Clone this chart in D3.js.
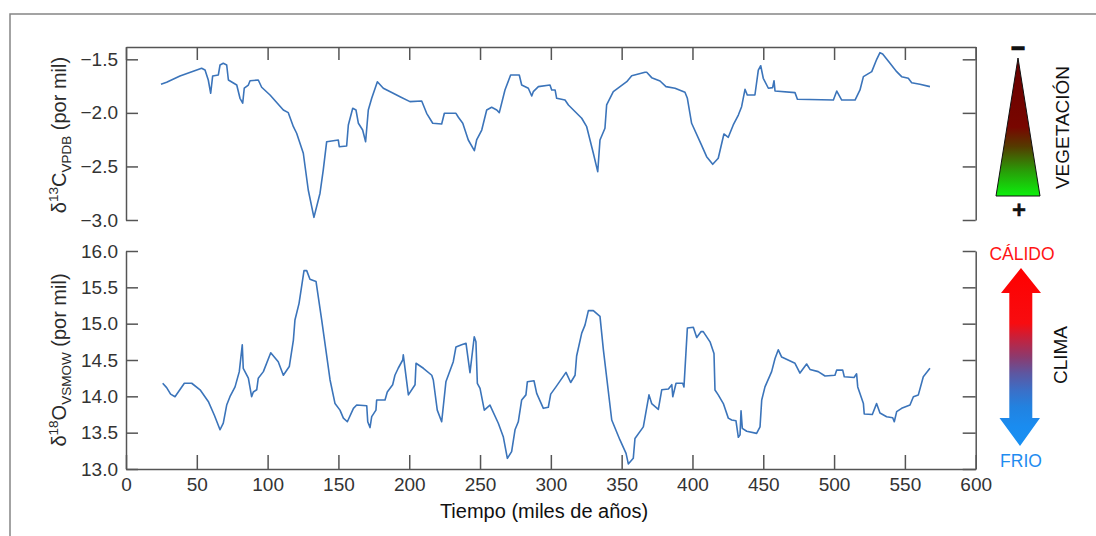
<!DOCTYPE html>
<html>
<head>
<meta charset="utf-8">
<script src="https://cdn.jsdelivr.net/npm/d3@7"></script>
<style>
  html, body { margin: 0; padding: 0; background: #fff; }
  svg { display: block; }
</style>
</head>
<body>
<svg id="chart" width="1096" height="536"></svg>
<script>
// ---------- DATA ----------
const ageC = [24.7,28.7,38.1,53.4,55.8,58.1,59.8,61.2,65.2,66.4,68.7,71.1,72.3,78.2,80.5,82.4,83.5,86.4,87.6,93.4,95.8,101.7,111.1,114.6,118.2,120.5,125.2,128.7,132.7,137,139.3,141.7,149.9,150.6,155.8,157,160.1,162.4,164.1,167.1,169.2,171.1,173.5,177.5,181.7,188.7,193.5,200.5,208.8,212.3,216.6,222.9,224.8,233,234.7,237.8,241.7,246,247.6,251.2,254.7,258.2,261.8,263.6,267.6,271.6,277.7,279.4,284.1,286.5,287.6,291.2,299.4,300.6,303,304.1,310,312.4,321.8,325.3,330,333.1,334.7,338.2,339.4,344.1,353.6,357.1,366.5,367.7,371.2,377.1,381.3,387.7,394.7,396.4,399.4,406,410,414.3,418.2,422.2,425.3,428.8,432.4,434.7,437.1,438.7,444.1,446.5,448.2,450,453.6,456.6,457.6,458.3,472.4,474.1,499.5,501.9,505.4,514.8,518.3,520.7,526.6,530.1,532.4,534.3,539.5,544.2,547.7,552.4,554.8,560.6,567.7];
const d13C = [-1.733,-1.714,-1.655,-1.583,-1.60,-1.693,-1.817,-1.655,-1.646,-1.553,-1.537,-1.553,-1.693,-1.74,-1.864,-1.91,-1.77,-1.74,-1.70,-1.693,-1.761,-1.833,-1.973,-1.998,-2.129,-2.19,-2.377,-2.72,-2.975,-2.75,-2.533,-2.269,-2.253,-2.316,-2.309,-2.113,-1.957,-1.973,-2.097,-2.16,-2.269,-1.973,-1.864,-1.709,-1.77,-1.817,-1.849,-1.895,-1.889,-2.004,-2.097,-2.104,-2.004,-2.004,-2.041,-2.097,-2.253,-2.353,-2.253,-2.16,-1.973,-1.948,-1.973,-1.998,-1.786,-1.646,-1.646,-1.74,-1.77,-1.842,-1.802,-1.755,-1.74,-1.786,-1.786,-1.864,-1.88,-1.926,-2.05,-2.129,-2.377,-2.549,-2.253,-2.144,-1.926,-1.802,-1.709,-1.653,-1.621,-1.621,-1.671,-1.702,-1.755,-1.77,-1.808,-1.864,-2.097,-2.29,-2.409,-2.48,-2.424,-2.197,-2.228,-2.113,-2.02,-1.942,-1.78,-1.833,-1.833,-1.60,-1.56,-1.677,-1.77,-1.764,-1.70,-1.796,-1.811,-1.873,-1.88,-1.796,-1.88,-1.88,-1.786,-1.662,-1.615,-1.50,-1.438,-1.45,-1.537,-1.615,-1.662,-1.677,-1.718,-1.733,-1.755];

const ageO = [25.9,28.7,31.5,34.6,41.2,46.4,52.3,58.1,62.4,66.4,68.7,71.1,73.4,77,80,82.1,82.8,86.4,88.7,89.9,92.3,93.4,97,102.2,107.5,111.1,115.3,118.2,119.3,122.2,125.7,127.6,129.9,134.2,138.2,144.1,147.6,151.1,153.5,156.3,160.6,162.9,170,170.7,172.3,173.5,176.5,177,182.9,184.5,188.3,189.9,192.3,195.4,195.8,199.4,204.1,204.8,210,215.9,217,219.8,222.9,225.9,231.1,233,237,240.1,242.9,245.9,247.1,248.1,250,253,257,262.9,266.4,269.3,272.3,274.7,277,279.4,282.4,283.4,288.1,290,294.7,298.2,299.9,303.6,310.7,314,317.1,318.2,321.8,324.1,326.5,330,334.7,337.1,343,348.8,353.1,354.7,358.2,359.4,365.3,369.3,371.2,375.9,378.3,383,385.4,386.1,388.4,393.1,394,396.4,400.6,403,406,407.6,412.4,415.2,415.9,418.2,421.8,425.3,427.7,430.7,432.4,433.6,434.3,435.2,438.3,445.3,447.7,448.9,451.2,455.9,458.3,460.6,463,472.4,475.9,480.6,483,488.8,493.6,500.6,501.8,506.1,507.2,514.1,515.9,516.7,520.7,521.3,527,530,532.4,537.1,541.4,542.5,544.2,547.7,553.6,556,559.5,563,567.7];
const d18O = [14.18,14.12,14.03,13.995,14.18,14.18,14.09,13.93,13.74,13.54,13.63,13.88,13.995,14.13,14.34,14.71,14.386,14.25,13.995,14.06,14.09,14.25,14.34,14.60,14.477,14.29,14.41,14.775,15.05,15.28,15.73,15.73,15.61,15.58,15.05,14.225,13.90,13.81,13.70,13.65,13.835,13.88,13.87,13.65,13.57,13.72,13.81,13.95,13.95,14.06,14.16,14.29,14.39,14.50,14.57,14.02,14.16,14.455,14.386,14.29,14.225,13.81,13.65,14.20,14.477,14.68,14.71,14.73,14.325,14.82,14.75,14.18,14.11,13.81,13.88,13.63,13.445,13.147,13.24,13.54,13.65,13.95,14.02,14.20,14.215,14.04,13.835,13.85,14.03,14.13,14.33,14.19,14.29,14.555,14.87,14.98,15.18,15.18,15.10,14.64,13.674,13.40,13.216,13.07,13.147,13.42,13.58,14.02,13.90,13.82,14.09,14.10,14.16,13.995,14.18,14.18,14.13,14.94,14.95,14.81,14.89,14.89,14.75,14.59,14.087,14.02,13.90,13.70,13.674,13.665,13.436,13.47,13.80,13.56,13.52,13.49,13.58,13.95,14.13,14.34,14.52,14.64,14.54,14.455,14.32,14.445,14.37,14.34,14.28,14.29,14.36,14.36,14.27,14.26,14.31,14.13,13.90,13.757,13.75,13.90,13.77,13.72,13.706,13.65,13.79,13.835,13.88,13.995,14.02,14.27,14.386];

const xTicks = [0,50,100,150,200,250,300,350,400,450,500,550,600];
const cTicks = [-1.5,-2.0,-2.5,-3.0];
const oTicks = [13.0,13.5,14.0,14.5,15.0,15.5,16.0];

// ---------- LAYOUT ----------
const svg = d3.select("#chart");
const FONT = "'Liberation Sans', Arial, Helvetica, sans-serif";
const AX = "#555";
const LINE = "#3b74ba";

const x = d3.scaleLinear().domain([0, 600]).range([126, 975.7]);
const yC = d3.scaleLinear().domain([-3.0, -1.385]).range([220, 47]);
const yO = d3.scaleLinear().domain([13.0, 16.0]).range([469, 251]);

// outer frame
svg.append("path")
  .attr("d", "M10,536V14H1096")
  .attr("fill", "none").attr("stroke", "#858585").attr("stroke-width", 1.5);

function styleAxis(g, showText) {
  g.attr("font-family", FONT);
  g.select(".domain").attr("stroke", AX).attr("stroke-width", 1.5);
  g.selectAll(".tick line").attr("stroke", AX).attr("stroke-width", 1.5);
  g.selectAll(".tick text").attr("fill", "#333").attr("font-size", 19);
  if (!showText) g.selectAll(".tick text").remove();
}

// ---- top panel (d13C)
svg.append("g").attr("transform", "translate(126,0)")
  .call(d3.axisLeft(yC).tickValues(cTicks).tickSize(-12).tickSizeOuter(0).tickPadding(8).tickFormat(d3.format(".1f")))
  .call(g => styleAxis(g, true));
svg.append("g").attr("transform", "translate(975.7,0)")
  .call(d3.axisRight(yC).tickValues(cTicks).tickSize(-13).tickSizeOuter(0).tickFormat(""))
  .call(g => styleAxis(g, false));
svg.append("g").attr("transform", "translate(0,47)")
  .call(d3.axisTop(x).tickValues(xTicks).tickSize(-13).tickSizeOuter(0).tickFormat(""))
  .call(g => styleAxis(g, false));

// ---- bottom panel (d18O)
svg.append("g").attr("transform", "translate(126,0)")
  .call(d3.axisLeft(yO).tickValues(oTicks).tickSize(-12).tickSizeOuter(0).tickPadding(8).tickFormat(d3.format(".1f")))
  .call(g => styleAxis(g, true));
svg.append("g").attr("transform", "translate(975.7,0)")
  .call(d3.axisRight(yO).tickValues(oTicks).tickSize(-13).tickSizeOuter(0).tickFormat(""))
  .call(g => styleAxis(g, false));
svg.append("g").attr("transform", "translate(0,469)")
  .call(d3.axisBottom(x).tickValues(xTicks).tickSize(-14).tickSizeOuter(0).tickPadding(9).tickFormat(d3.format("d")))
  .call(g => styleAxis(g, true));

// ---- lines
const lineC = d3.line().x((d, i) => x(ageC[i])).y(d => yC(d));
const lineO = d3.line().x((d, i) => x(ageO[i])).y(d => yO(d));
svg.append("path").datum(d13C).attr("d", lineC)
  .attr("fill", "none").attr("stroke", LINE).attr("stroke-width", 1.6).attr("stroke-linejoin", "round");
svg.append("path").datum(d18O).attr("d", lineO)
  .attr("fill", "none").attr("stroke", LINE).attr("stroke-width", 1.6).attr("stroke-linejoin", "round");

// ---- axis titles
svg.append("text")
  .attr("x", 544).attr("y", 518).attr("text-anchor", "middle")
  .attr("font-family", FONT).attr("font-size", 20).attr("fill", "#111")
  .text("Tiempo (miles de años)");

function yTitle(cx, cy, elem, sup, sub) {
  const t = svg.append("text")
    .attr("transform", `translate(${cx},${cy}) rotate(-90)`)
    .attr("text-anchor", "middle")
    .attr("font-family", FONT).attr("font-size", 20).attr("fill", "#2a2a2a");
  t.append("tspan").text("δ");
  t.append("tspan").attr("font-size", 13.5).attr("dy", -8).text(sup);
  t.append("tspan").attr("dy", 8).text(elem);
  t.append("tspan").attr("font-size", 13.5).attr("dy", 5).text(sub);
  t.append("tspan").attr("dy", -5).text(" (por mil)");
}
yTitle(66, 135, "C", "13", "VPDB");
yTitle(66, 360, "O", "18", "VSMOW");

// ---- right legends
const defs = svg.append("defs");
const gV = defs.append("linearGradient").attr("id", "gVeg")
  .attr("x1", 0).attr("y1", 0).attr("x2", 0).attr("y2", 1);
[[0, "#680000"], [0.5, "#780600"], [0.64, "#553a00"], [0.82, "#289e08"], [1, "#0cf00c"]]
  .forEach(s => gV.append("stop").attr("offset", s[0]).attr("stop-color", s[1]));
svg.append("path")
  .attr("d", "M1018,58L1040,196L996,196Z")
  .attr("fill", "url(#gVeg)").attr("stroke", "#111").attr("stroke-width", 1);

svg.append("text").attr("x", 1018).attr("y", 56).attr("text-anchor", "middle")
  .attr("font-family", FONT).attr("font-size", 24).attr("font-weight", "bold")
  .attr("fill", "#111").attr("stroke", "#111").attr("stroke-width", 1.2).text("−");
svg.append("text").attr("x", 1019).attr("y", 218).attr("text-anchor", "middle")
  .attr("font-family", FONT).attr("font-size", 24).attr("font-weight", "bold")
  .attr("fill", "#111").attr("stroke", "#111").attr("stroke-width", 0.4).text("+");
svg.append("text")
  .attr("transform", "translate(1069,127.5) rotate(-90)").attr("text-anchor", "middle")
  .attr("font-family", FONT).attr("font-size", 19).attr("fill", "#111").text("VEGETACIÓN");

const gA = defs.append("linearGradient").attr("id", "gClim")
  .attr("gradientUnits", "userSpaceOnUse")
  .attr("x1", 0).attr("y1", 268).attr("x2", 0).attr("y2", 446);
[[0, "#ff0000"], [0.31, "#f80c10"], [0.39, "#c8203a"], [0.5, "#8c3a6e"], [0.59, "#5e56a0"], [0.69, "#3a70c8"], [0.78, "#2282e0"], [0.89, "#1a8cf0"], [1, "#1890f2"]]
  .forEach(s => gA.append("stop").attr("offset", s[0]).attr("stop-color", s[1]));
svg.append("path")
  .attr("d", "M1021,268L1041,293L1032.3,293L1032.3,418L1040,418L1020,446L999.5,418L1009.3,418L1009.3,293L1001,293Z")
  .attr("fill", "url(#gClim)");

svg.append("text").attr("x", 1022).attr("y", 260).attr("text-anchor", "middle")
  .attr("font-family", FONT).attr("font-size", 17.5).attr("fill", "#ff1414").text("CÁLIDO");
svg.append("text").attr("x", 1021).attr("y", 467).attr("text-anchor", "middle")
  .attr("font-family", FONT).attr("font-size", 17.5).attr("fill", "#1f8cf0").text("FRIO");
svg.append("text")
  .attr("transform", "translate(1067,355) rotate(-90)").attr("text-anchor", "middle")
  .attr("font-family", FONT).attr("font-size", 19).attr("fill", "#111").text("CLIMA");
</script>
</body>
</html>
